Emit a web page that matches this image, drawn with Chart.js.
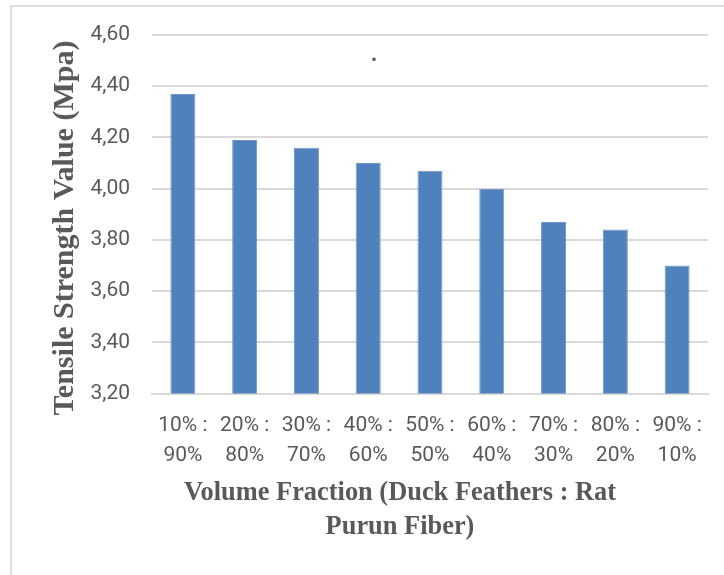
<!DOCTYPE html>
<html>
<head>
<meta charset="utf-8">
<script src="https://cdn.jsdelivr.net/npm/chart.js@4.4.1/dist/chart.umd.min.js"></script>
<style>
  html, body { margin: 0; padding: 0; background: #fff; }
  #frame { position: absolute; left: 10px; top: 5px; width: 714px; height: 570px;
           border-top: 2px solid #dedede; border-left: 2px solid #dedede; }
  #wrap { position: absolute; left: 12px; top: 7px; width: 712px; height: 568px; }
</style>
</head>
<body>
<div id="frame"></div>
<div id="wrap"><canvas id="chart"></canvas></div>
<script>
// Volume fraction ratios (duck feathers : rat purun fiber)
const categories = [
  ['10% :', '90%'], ['20% :', '80%'], ['30% :', '70%'],
  ['40% :', '60%'], ['50% :', '50%'], ['60% :', '40%'],
  ['70% :', '30%'], ['80% :', '20%'], ['90% :', '10%']
];
// Tensile strength in MPa
const tensileStrength = [4.37, 4.19, 4.16, 4.10, 4.07, 4.00, 3.87, 3.84, 3.70];
// Value axis ticks
const yTicks = [3.20, 3.40, 3.60, 3.80, 4.00, 4.20, 4.40, 4.60];
const xTitleLines = ['Volume Fraction (Duck Feathers : Rat', 'Purun Fiber)'];
const yTitle = 'Tensile Strength Value (Mpa)';
const stray = '.';

const textGrey = '#595959';
const gridGrey = '#d9d9d9';
const tickFont = { family: 'Roboto, "Open Sans", sans-serif', size: 21, lineHeight: 1.43 };

// Axis titles are drawn centred on the whole figure rather than the plot area
const axisTitles = {
  id: 'axisTitles',
  afterDraw(chart) {
    const { ctx, chartArea } = chart;
    ctx.save();
    ctx.fillStyle = textGrey;
    ctx.textAlign = 'center';
    ctx.textBaseline = 'middle';
    ctx.font = 'bold 26.4px "Liberation Serif", "Times New Roman", serif';
    const cx = chartArea.left + 248;
    xTitleLines.forEach((line, i) => {
      ctx.fillText(line, cx, chartArea.bottom + 100 + i * 34);
    });
    ctx.save();
    ctx.translate(chartArea.left - 87, chartArea.top + 193);
    ctx.rotate(-Math.PI / 2);
    ctx.font = 'bold 30px "Liberation Serif", "Times New Roman", serif';
    ctx.fillText(yTitle, 0, 0);
    ctx.restore();
    ctx.font = 'bold 22px "Liberation Serif", serif';
    ctx.fillText(stray, chartArea.left + 222, chartArea.top + 20);
    ctx.restore();
  }
};

new Chart(document.getElementById('chart'), {
  type: 'bar',
  data: {
    labels: categories,
    datasets: [{
      data: tensileStrength,
      backgroundColor: '#4f81bd',
      borderColor: '#7096c6',
      borderWidth: 1,
      barPercentage: 0.405,
      categoryPercentage: 1
    }]
  },
  options: {
    responsive: true,
    maintainAspectRatio: false,
    animation: false,
    layout: { padding: { left: 0, right: 16, top: 28, bottom: 0 } },
    plugins: { legend: { display: false }, tooltip: { enabled: false } },
    scales: {
      x: {
        grid: { display: false, drawTicks: false },
        border: { display: true, color: gridGrey, width: 2 },
        ticks: { color: textGrey, font: tickFont, padding: 17, maxRotation: 0, autoSkip: false },
        afterFit(scale) { scale.height = 181.5; }
      },
      y: {
        min: 3.2,
        max: 4.6,
        grid: { color: gridGrey, lineWidth: 2, drawTicks: false },
        border: { display: false },
        ticks: {
          color: textGrey,
          font: tickFont,
          padding: 22,
          callback: (v) => Number(v).toFixed(2).replace('.', ',')
        },
        afterBuildTicks(scale) { scale.ticks = yTicks.map(v => ({ value: v })); },
        afterFit(scale) {
          scale.width = 140;
          scale.paddingTop = 0;
          scale.paddingBottom = 0;
        }
      }
    }
  },
  plugins: [axisTitles]
});
</script>
</body>
</html>
